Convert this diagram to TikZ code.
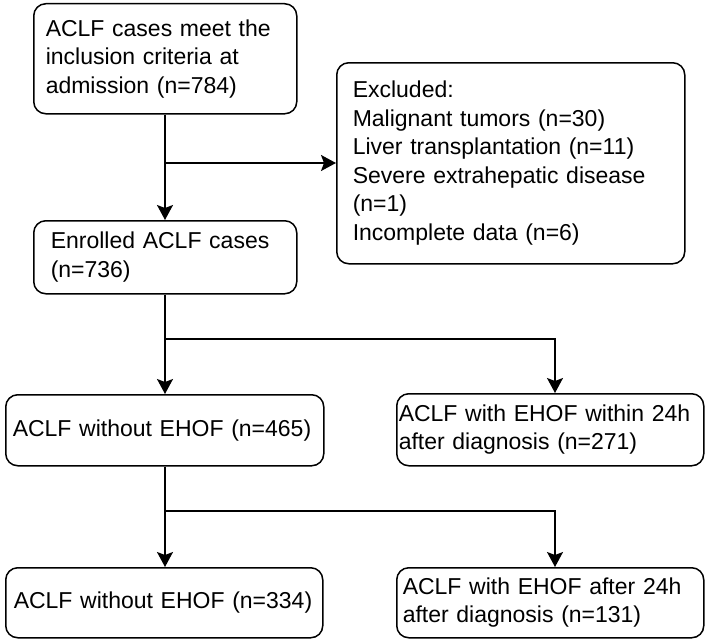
\documentclass[tikz,border=0pt]{standalone}
\usepackage{fontspec}
\setmainfont{Liberation Sans}
\usetikzlibrary{arrows.meta}
\begin{document}
\begin{tikzpicture}[x=1pt,y=-1pt,
           box_style/.style={draw=black,line width=1.5pt,rounded corners=12pt,anchor=north west,
             align=left,inner ysep=2pt,font=\fontsize{23}{28.5}\selectfont},
           edge_style/.style={draw=black,line width=1.5pt},
           arrow_style/.style={draw=black,line width=1.5pt,-{Stealth[length=15pt,width=16pt,inset=3pt]}}]
            \useasboundingbox (0, 0) rectangle (708, 642);
            \node[box_style,minimum width=263pt,minimum height=110pt,inner xsep=12pt,text width=239pt] (admit) at (33, 3) {ACLF cases meet the\\inclusion criteria at\\admission (n=784)};
            \node[box_style,minimum width=348pt,minimum height=201pt,inner xsep=16pt,text width=316pt] (excl) at (336, 62) {Excluded:\\Malignant tumors (n=30)\\Liver transplantation (n=11)\\Severe extrahepatic disease\\(n=1)\\Incomplete data (n=6)};
            \node[box_style,minimum width=263pt,minimum height=73pt,inner xsep=17pt,text width=229pt] (enroll) at (33, 220) {Enrolled ACLF cases\\(n=736)};
            \node[box_style,minimum width=318pt,minimum height=71pt,inner xsep=7pt,text width=304pt] (noehofa) at (5, 394) {ACLF without EHOF (n=465)};
            \node[box_style,minimum width=307pt,minimum height=72pt,inner xsep=2pt,text width=303pt] (ehofearly) at (396, 393) {ACLF with EHOF within 24h\\after diagnosis (n=271)};
            \node[box_style,minimum width=317pt,minimum height=70pt,inner xsep=8pt,text width=301pt] (noehofb) at (5, 567) {ACLF without EHOF (n=334)};
            \node[box_style,minimum width=307pt,minimum height=70pt,inner xsep=6pt,text width=295pt] (ehoflate) at (396, 567) {ACLF with EHOF after 24h\\after diagnosis (n=131)};
            \coordinate (b1) at (165, 163);
            \coordinate (b2) at (165, 339);
            \coordinate (c2) at (555, 339);
            \coordinate (b3) at (165, 511);
            \coordinate (c3) at (555, 511);
            \draw[arrow_style]  (admit.south -| b1) -- (enroll.north -| b1);
            \draw[arrow_style]  (b1) -- (b1 -| excl.west);
            \draw[arrow_style]  (enroll.south -| b2) -- (noehofa.north -| b2);
            \draw[arrow_style]  (b2) -- (c2) -- (c2 |- ehofearly.north);
            \draw[arrow_style]  (noehofa.south -| b3) -- (noehofb.north -| b3);
            \draw[arrow_style]  (b3) -- (c3) -- (c3 |- ehoflate.north);
        \end{tikzpicture}
\end{document}
